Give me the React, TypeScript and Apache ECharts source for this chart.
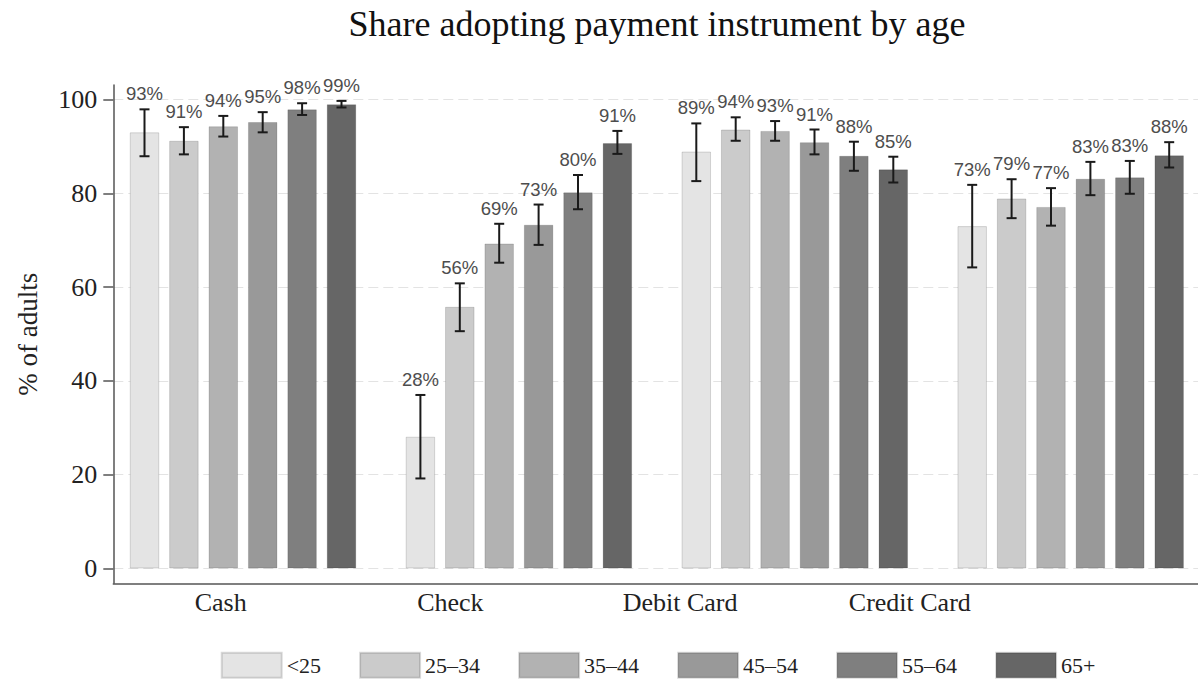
import React, { useEffect, useRef } from "react";
import * as echarts from "echarts";

// ---------- data ----------
const instruments = ["Cash", "Check", "Debit Card", "Credit Card"];
const ageGroups = ["<25", "25–34", "35–44", "45–54", "55–64", "65+"];
const barColors = ["#e4e4e4", "#cbcbcb", "#b2b2b2", "#999999", "#7f7f7f", "#666666"];

const cashMean = [93.0, 91.2, 94.3, 95.2, 97.9, 99.0];
const cashLow = [87.9, 88.3, 92.1, 93.0, 96.7, 98.3];
const cashHigh = [97.9, 94.1, 96.5, 97.3, 99.2, 99.7];

const checkMean = [28.1, 55.8, 69.3, 73.3, 80.2, 90.7];
const checkLow = [19.2, 50.6, 65.2, 69.0, 76.6, 88.4];
const checkHigh = [37.0, 60.8, 73.5, 77.6, 83.9, 93.3];

const debitMean = [88.9, 93.6, 93.3, 90.9, 88.0, 85.1];
const debitLow = [82.6, 91.2, 91.2, 88.3, 84.8, 82.3];
const debitHigh = [94.9, 96.2, 95.4, 93.6, 91.0, 87.8];

const creditMean = [73.0, 78.9, 77.1, 83.1, 83.4, 88.1];
const creditLow = [64.2, 74.7, 73.1, 79.6, 79.9, 85.5];
const creditHigh = [81.8, 83.0, 81.1, 86.7, 86.9, 90.9];

const yTicks = [0, 20, 40, 60, 80, 100];

const means = [cashMean, checkMean, debitMean, creditMean];
const lows = [cashLow, checkLow, debitLow, creditLow];
const highs = [cashHigh, checkHigh, debitHigh, creditHigh];

// ---------- layout / style constants ----------
const BAR_W = 29.5;
const BAR_GAP = 9.9;
const PITCH = BAR_W + BAR_GAP;
const SERIF = "'Liberation Serif', 'Times New Roman', serif";
const SANS = "'Liberation Sans', Arial, sans-serif";

export default function App() {
  const ref = useRef<HTMLDivElement>(null);

  useEffect(() => {
    if (!ref.current) return;
    const chart = echarts.init(ref.current, null, { renderer: "svg" });

    const barSeries = ageGroups.map((name, s) => ({
      name,
      type: "bar",
      xAxisIndex: 0,
      yAxisIndex: 0,
      barWidth: BAR_W,
      barGap: (BAR_GAP / BAR_W) * 100 + "%",
      itemStyle: {
        color: barColors[s],
        borderColor: "rgba(0,0,0,0.14)",
        borderWidth: 1,
      },
      z: 2,
      data: instruments.map((_, g) => [g, means[g][s]]),
    }));

    const ciData: number[][] = [];
    instruments.forEach((_, g) => {
      ageGroups.forEach((__, s) => {
        ciData.push([g, s, lows[g][s], highs[g][s], means[g][s]]);
      });
    });

    const n = ageGroups.length;

    const option: any = {
      animation: false,
      backgroundColor: "#ffffff",
      title: {
        text: "Share adopting payment instrument by age",
        left: 657,
        top: 6,
        padding: 0,
        textAlign: "center",
        textStyle: {
          fontFamily: SERIF,
          fontSize: 36,
          fontWeight: "normal",
          color: "#111111",
        },
      },
      legend: {
        data: ageGroups,
        left: 220.7,
        top: 651.7,
        padding: 0,
        itemWidth: 60,
        itemHeight: 25,
        itemGap: 38,
        icon: "rect",
        selectedMode: false,
        textStyle: { fontFamily: SERIF, fontSize: 22, color: "#222222" },
      },
      grid: [
        { left: 113.3, top: 85, width: 1084.7, height: 498.3 },
        { left: 105.85, top: 85, width: 918.8, height: 498.3 },
      ],
      xAxis: [
        {
          type: "value",
          gridIndex: 0,
          min: -0.4701,
          max: 3.4614,
          axisLine: { show: true, onZero: false, lineStyle: { color: "#555555", width: 1.5 } },
          axisTick: { show: false },
          axisLabel: { show: false },
          splitLine: { show: false },
        },
        {
          type: "category",
          gridIndex: 1,
          data: instruments,
          boundaryGap: true,
          axisLine: { show: false },
          axisTick: { show: false },
          axisLabel: {
            show: true,
            margin: 6,
            fontFamily: SERIF,
            fontSize: 26,
            color: "#222222",
          },
          splitLine: { show: false },
        },
      ],
      yAxis: [
        {
          type: "value",
          gridIndex: 0,
          min: -3.156,
          max: 103.09,
          name: "% of adults",
          nameLocation: "middle",
          nameGap: 72,
          nameTextStyle: { fontFamily: SERIF, fontSize: 27, color: "#222222" },
          axisLine: { show: true, onZero: false, lineStyle: { color: "#555555", width: 1.5 } },
          axisTick: {
            show: true,
            length: 10,
            customValues: yTicks,
            lineStyle: { color: "#555555", width: 1.5 },
          },
          axisLabel: {
            show: true,
            customValues: yTicks,
            margin: 16,
            fontFamily: SERIF,
            fontSize: 26,
            color: "#222222",
          },
          splitLine: {
            show: true,
            lineStyle: { color: "#e3e3e3", width: 1.2, type: [10, 5] },
          },
        },
        {
          type: "value",
          gridIndex: 1,
          min: 0,
          max: 1,
          show: false,
        },
      ],
      series: [
        ...barSeries,
        {
          name: "CI",
          type: "custom",
          xAxisIndex: 0,
          yAxisIndex: 0,
          z: 5,
          clip: false,
          encode: { x: 0, y: [2, 3] },
          data: ciData,
          renderItem: (params: any, api: any) => {
            const g = api.value(0);
            const s = api.value(1);
            const lo = api.value(2);
            const hi = api.value(3);
            const mean = api.value(4);
            const cx = api.coord([g, 0])[0] + (s - (n - 1) / 2) * PITCH;
            const yLo = api.coord([g, lo])[1];
            const yHi = api.coord([g, hi])[1];
            const cap = 5;
            const ls = { stroke: "#1a1a1a", lineWidth: 2 };
            return {
              type: "group",
              children: [
                { type: "line", shape: { x1: cx, y1: yLo, x2: cx, y2: yHi }, style: ls },
                { type: "line", shape: { x1: cx - cap, y1: yHi, x2: cx + cap, y2: yHi }, style: ls },
                { type: "line", shape: { x1: cx - cap, y1: yLo, x2: cx + cap, y2: yLo }, style: ls },
                {
                  type: "text",
                  x: cx,
                  y: yHi - 15.5,
                  style: {
                    text: Math.round(mean) + "%",
                    align: "center",
                    verticalAlign: "middle",
                    textAlign: "center",
                    textVerticalAlign: "middle",
                    fontFamily: SANS,
                    fontSize: 18.5,
                    fill: "#4d4d4d",
                  },
                },
              ],
            };
          },
        },
      ],
    };

    chart.setOption(option);
    return () => chart.dispose();
  }, []);

  return (
    <div
      ref={ref}
      style={{ position: "fixed", left: 0, top: 0, width: 1198, height: 681, background: "#fff" }}
    />
  );
}
